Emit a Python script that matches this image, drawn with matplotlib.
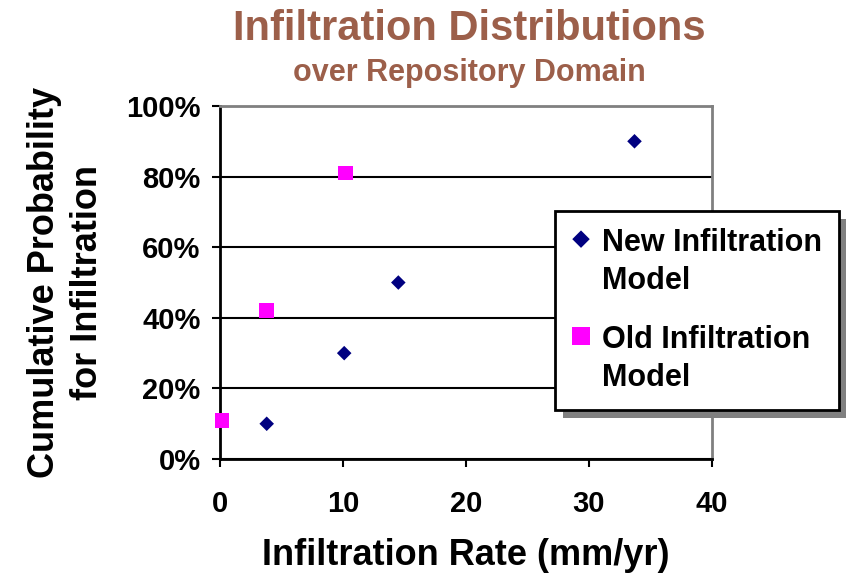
import matplotlib.pyplot as plt
from matplotlib.patches import Rectangle
from matplotlib.ticker import PercentFormatter

plt.rcParams['font.family'] = ['Liberation Sans', 'DejaVu Sans']
plt.rcParams['font.weight'] = 'bold'
plt.rcParams['axes.labelweight'] = 'bold'

new_rate = [3.8, 10.1, 14.5, 33.7]
new_prob = [10, 30, 50, 90]
old_rate = [0.15, 3.8, 10.2]
old_prob = [11, 42, 81]

x_ticks = [0, 10, 20, 30, 40]
y_ticks = [0, 20, 40, 60, 80, 100]

fig = plt.figure(figsize=(8.46, 5.76), dpi=100)
ax = fig.add_axes([0.26, 0.203, 0.5816, 0.613])

ax.scatter(new_rate, new_prob, marker="D", s=55, c="#000080", edgecolors="none",
           label="New Infiltration\nModel", zorder=3, clip_on=False)
ax.scatter(old_rate, old_prob, marker="s", s=110, c="#FF00FF", edgecolors="none",
           label="Old Infiltration\nModel", zorder=3, clip_on=False)

ax.set_xlim(0, 40)
ax.set_ylim(0, 100)
ax.set_xticks(x_ticks)
ax.set_yticks(y_ticks)
ax.yaxis.set_major_formatter(PercentFormatter(decimals=0))

ax.grid(axis="y", color="black", linewidth=1.5)
ax.set_axisbelow(True)

for side in ["top", "right"]:
    ax.spines[side].set_color("#808080")
    ax.spines[side].set_linewidth(2)
for side in ["left", "bottom"]:
    ax.spines[side].set_color("black")
    ax.spines[side].set_linewidth(2)

ax.tick_params(axis="both", direction="out", width=1.5, length=6, labelsize=21)
ax.tick_params(axis="x", pad=16)
ax.tick_params(axis="y", pad=8)

ax.set_xlabel("Infiltration Rate (mm/yr)", fontsize=26, labelpad=15)
ax.set_ylabel("Cumulative Probability\nfor Infiltration", fontsize=26, labelpad=15,
              linespacing=1.3)

fig.text(0.555, 0.95, "Infiltration Distributions", ha="center", va="center",
         fontsize=30, color="#9C5F4A")
fig.text(0.555, 0.874, "over Repository Domain", ha="center", va="center",
         fontsize=22, color="#9C5F4A")

leg = ax.legend(loc="upper left", bbox_to_anchor=(0.681, 0.7025), fontsize=22,
                frameon=True, fancybox=False, edgecolor="black", framealpha=1,
                handletextpad=0.4, labelspacing=0.95, borderpad=0.55,
                borderaxespad=0, handlelength=0.6, markerscale=1.2,
                scatteryoffsets=[1.6])
leg.get_frame().set_linewidth(2)
leg.set_zorder(5)
for t in leg.get_texts():
    t.set_linespacing(1.35)

# drop shadow, offset down-right like the original
fig.canvas.draw()
bb = leg.get_window_extent().transformed(fig.transFigure.inverted())
shadow = Rectangle((bb.x0 + 8 / 846, bb.y0 - 8 / 576), bb.width, bb.height,
                   transform=fig.transFigure, facecolor="#808080",
                   edgecolor="none", zorder=4, clip_on=False)
ax.add_patch(shadow)

plt.savefig("out.png", dpi=100)
